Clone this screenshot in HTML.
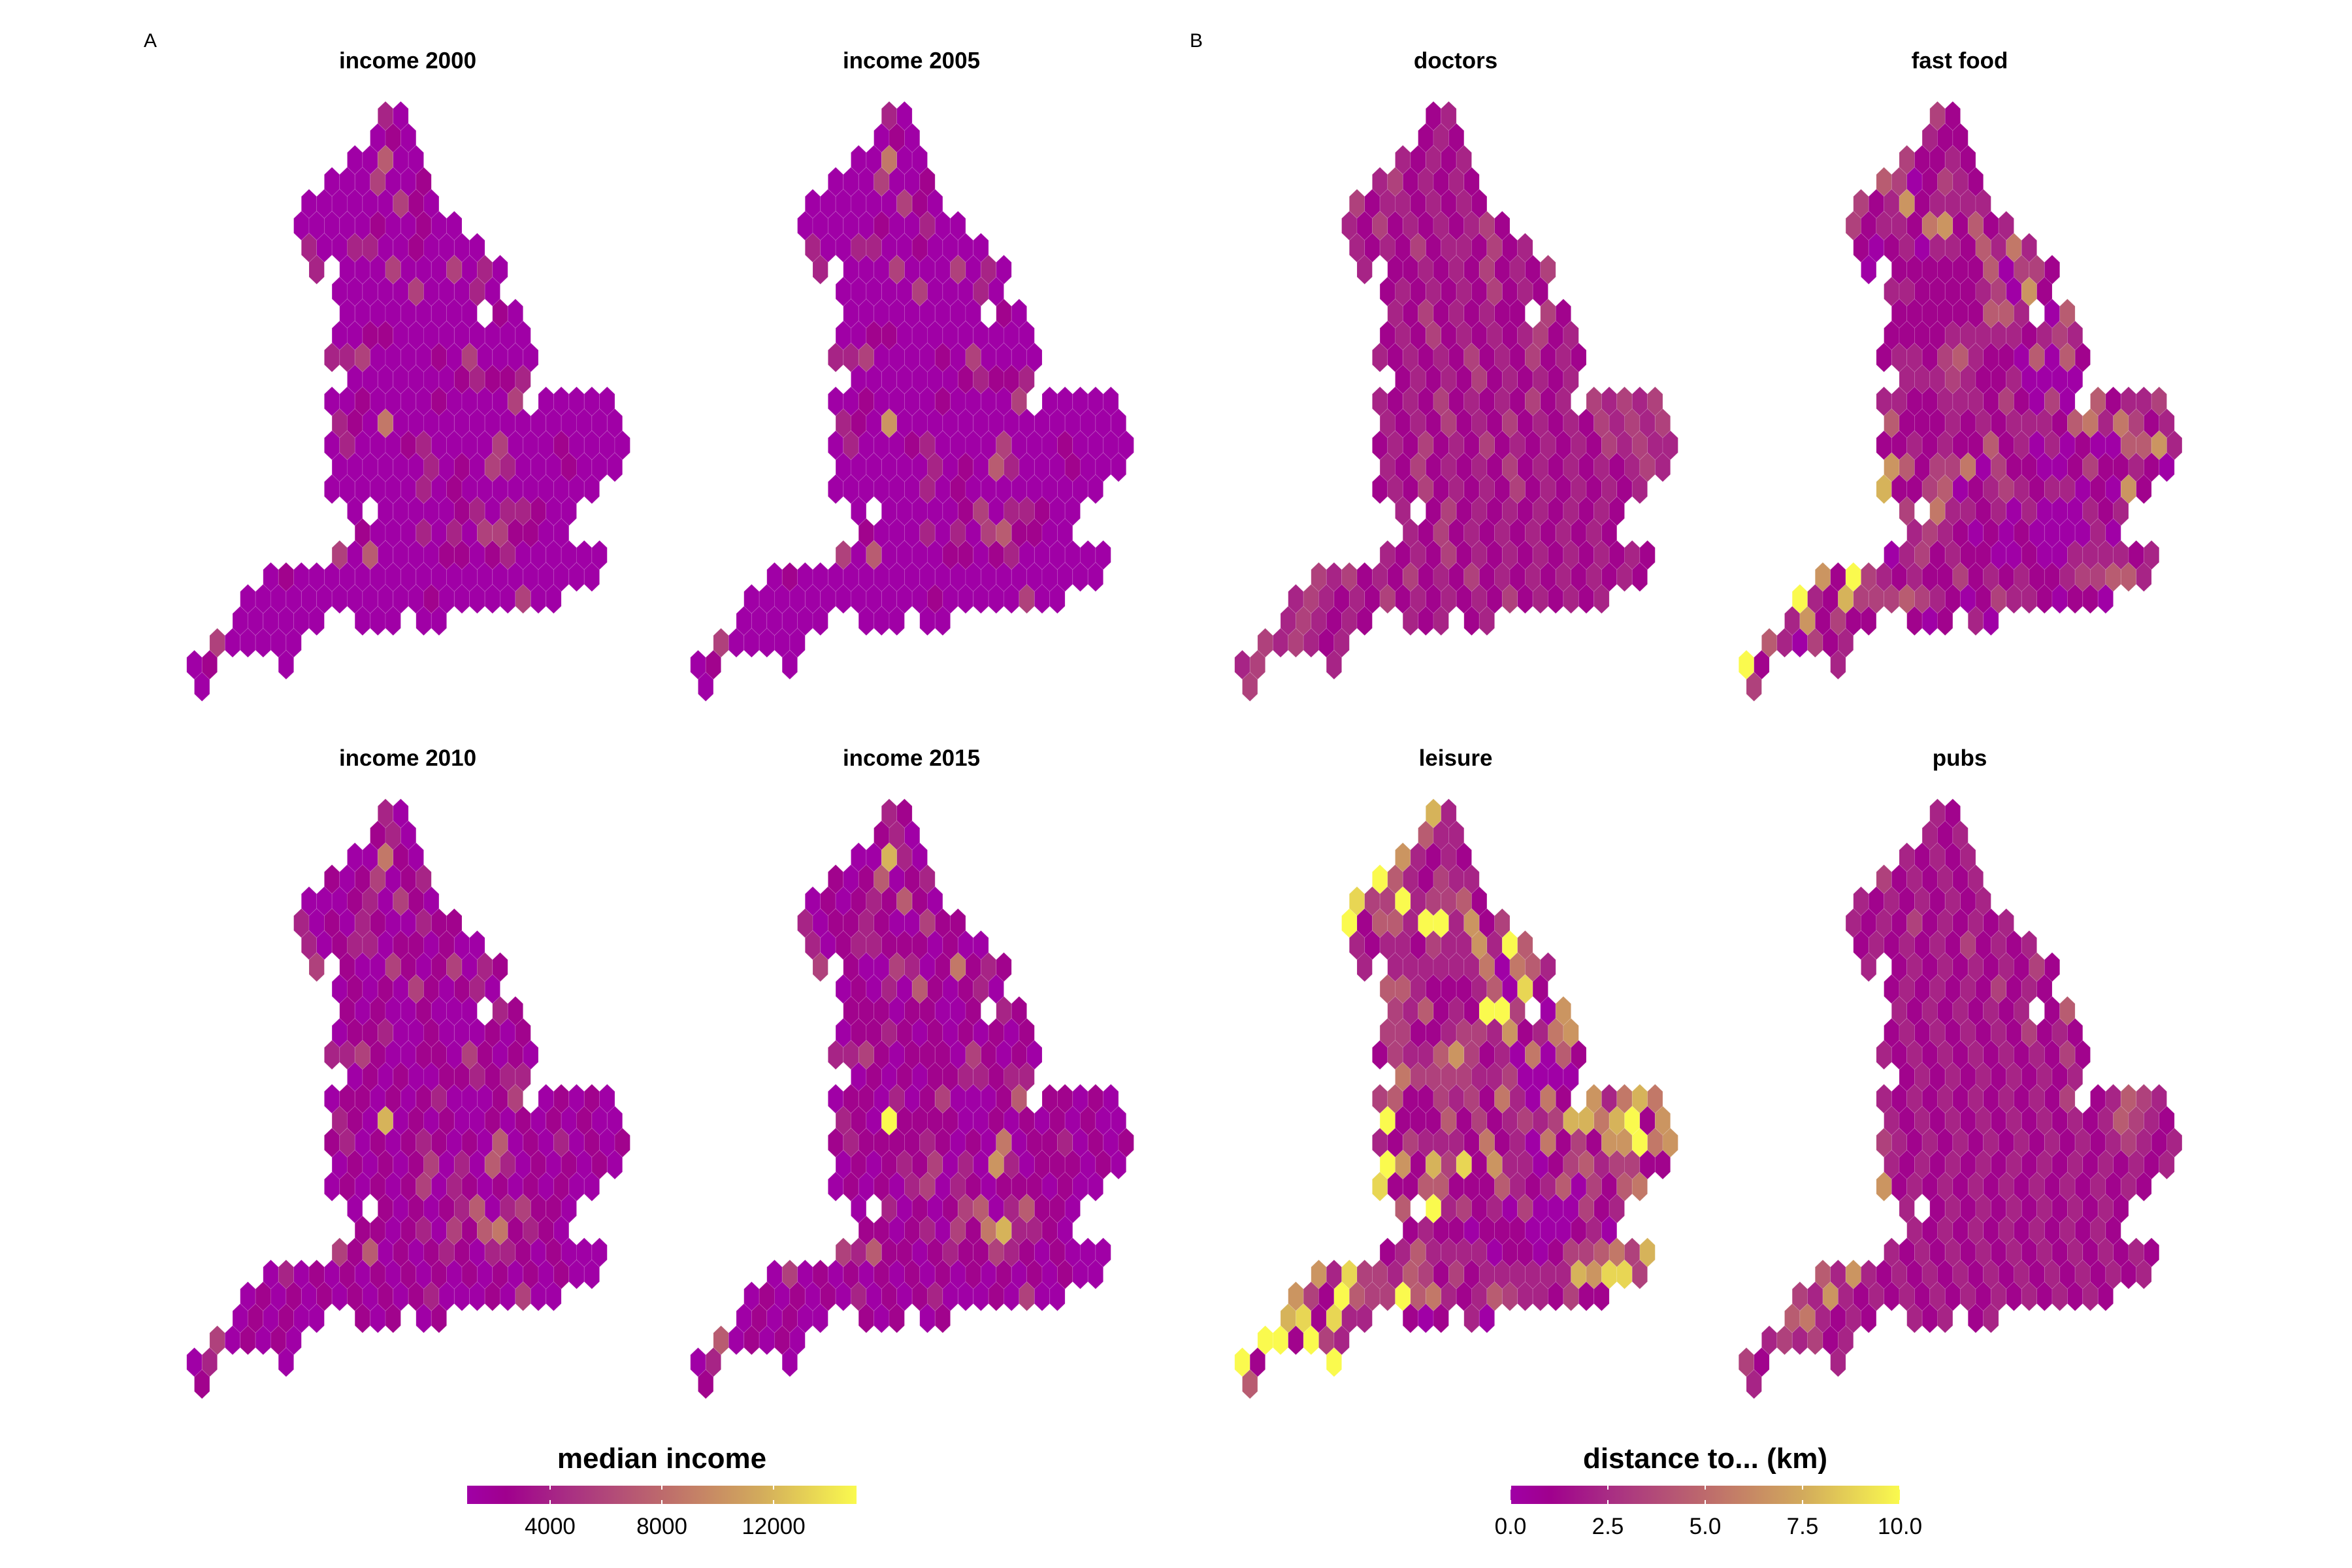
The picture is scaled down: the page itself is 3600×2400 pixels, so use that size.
<!DOCTYPE html>
<html>
<head>
<meta charset="utf-8">
<style>
html,body{margin:0;padding:0;background:#fff;}
svg{display:block;font-family:"Liberation Sans",Arial,sans-serif;}
</style>
</head>
<body>
<svg id="chart" width="3600" height="2400" viewBox="0 0 3600 2400" xmlns="http://www.w3.org/2000/svg">
<defs>
<linearGradient id="grad" x1="0" x2="1" y1="0" y2="0">
<stop offset="0" stop-color="#A000A6"/>
<stop offset="0.1" stop-color="#A0008E"/>
<stop offset="0.25" stop-color="#A82C84"/>
<stop offset="0.5" stop-color="#BD6A6C"/>
<stop offset="0.75" stop-color="#D2AA5C"/>
<stop offset="1" stop-color="#FAFA4E"/>
</linearGradient>
</defs>
<text x="230" y="72" font-size="30" text-anchor="middle">A</text>
<text x="1831" y="72" font-size="30" text-anchor="middle">B</text>
<g id="maps"></g>
<g id="legends"></g>
</svg>
<script>
// grid shape: per row, list of [startK, endK] ranges
const shapeRanges = [
 [[0,1]],[[0,2]],[[-2,2]],[[-3,3]],[[-5,3]],[[-5,5]],[[-5,6]],[[-4,-4],[-2,8]],[[-3,7]],
 [[-2,6],[8,9]],[[-3,9]],[[-3,10]],[[-2,9]],[[-3,9],[11,15]],[[-3,15]],[[-3,16]],[[-3,15]],
 [[-3,14]],[[-2,-2],[0,12]],[[-1,12]],[[-3,14]],[[-7,14]],[[-9,11]],[[-9,-4],[-1,1],[3,4]],
 [[-11,-6]],[[-12,-11],[-6,-6]],[[-12,-12]]
];
// values per cell (digit 0-9 on colour scale), row by row
const income2000 = ["20","010","00400","0003001","000000310","00000100100","200220010000","200030003020","00000300020","00000000010","0011000000000","22300001030000","000000012112","001000010000300000","2105000000000000000","02000120000300010000","0000002010320001000","000000201000000000","00000012022100","10002020331100","304000011012000000","0100000000000000000000","000000000000100000300","00000000000","300000","010","0"];
const income2005 = ["20","010","00500","0003001","000000310","00000100200","200220010000","200030003020","00000300020","00000000010","0011000000000","22300001030000","000000012112","001000010000300000","2106000000000000000","02000120000300010000","0000002010420001000","000000201000000000","00000013022100","10002020341100","304000011012000000","0100000000000000000000","000000000000100000300","00000000000","300000","010","0"];
const income2010 = ["20","120","00510","1013012","000120310","20102100211","201220110100","310031013021","01010310120","10100100021","0112001000101","22310011031010","010100112122","011010120001301010","2107010100101010100","12010121010401020101","0101013020420101010","010101302101010100","01010124023110","11012031451210","314010121022101000","0201010101010101010100","010101010101200010300","01010010101","301010","020","1"];
const income2015 = ["21","120","00720","1014012","010121410","20112100311","201221110100","310032015121","01020410120","11101100121","0112101010101","22310111031010","010101122122","011020130001411010","2109111100101010100","12111121010501120101","0101213020620111010","010102302101110100","02010134024110","11012031572210","324110121132101000","0301010101010101010100","010101020101200010300","01010010101","401010","020","1"];
const doctors = ["12","121","21212","2312121","312212121","21312121231","212131221312","211212131213","12121213121","21312121131","1213121212312","21212131213121","121213121212","212131212131232323","2121312131212132323","12131213121212132322","2131212131212121232","121312121312121212","21312121212121","21312121212121","212131212121212121","3231213121312121212121","232121312121213121212","23212121212","323212","232","3"];
const fastFood = ["31","211","31121","4301321","312612222","31221561412","101202214252","011111140331","22111123061","11111144204","1111222221232","12213421104041","222321120000","221122213103041223","4111212122214525312","11212114120201004462","6413350311001311210","711340123212201061","35221202000212","23210101000020","023121100100222212","6193212113121211233442","921733343210132210110","26131110120","420312","912","3"];
const leisure = ["72","422","62121","9421322","833923341","91442992613","212213226294","222222250542","44211124081","32412199306","3311233261256","13224631205041","533332230000","341132315205162575","9111413123237757916","21322215120513166956","9617381622013423311","811441114212403145","49231203000312","12110111000120","124222201101334537","6283324313122222276883","631943394521243221311","78182210120","991932","919","4"];
const pubs = ["21","212","21212","3121212","212121212","21213121212","121212131212","212121212131","12121213121","21212121214","1212121213121","21212121212131","121212121212","212121212121312432","2121212121212124321","32121212121212123212","2121212121212121212","612121212121212121","21212121212121","21212121212121","212121212121212121","4262121212121212121212","326212121212121212121","45212121212","232312","312","2"];
const panelTitles = ["income 2000","income 2005","income 2010","income 2015","doctors","fast food","leisure","pubs"];
const incomeTicks = [4000, 8000, 12000];
const incomeTickLabels = ["4000","8000","12000"];
const incomeDomain = [1030, 14970];
const distTicks = [0, 2.5, 5, 7.5, 10];
const distTickLabels = ["0.0","2.5","5.0","7.5","10.0"];
const distDomain = [0, 10];

const panelSeries = [income2000, income2005, income2010, income2015, doctors, fastFood, leisure, pubs];
const panelOrigins = [[590,177.5],[1361,177.5],[590,1245],[1361,1245],[2194,177.5],[2965.5,177.5],[2194,1245],[2965.5,1245]];
const HW = 23.4, HH = 44.8, RS = 33.6;
const NS = "http://www.w3.org/2000/svg";

const stops = [[0,[160,0,166]],[0.1,[160,0,142]],[0.25,[168,44,132]],[0.5,[189,106,108]],[0.75,[210,170,92]],[1,[250,250,78]]];
function colorAt(t){
  t = Math.max(0, Math.min(1, t));
  for (let i = 1; i < stops.length; i++){
    if (t <= stops[i][0]){
      const a = stops[i-1], b = stops[i];
      const f = (t - a[0]) / (b[0] - a[0]);
      const c = a[1].map((v,j)=>Math.round(v + (b[1][j]-v)*f));
      return "rgb(" + c.join(",") + ")";
    }
  }
  return "rgb(250,250,78)";
}
function hexPoints(cx, cy){
  return [[cx,cy-HH/2],[cx+HW/2,cy-HH/4],[cx+HW/2,cy+HH/4],[cx,cy+HH/2],[cx-HW/2,cy+HH/4],[cx-HW/2,cy-HH/4]]
    .map(p=>p[0].toFixed(1)+","+p[1].toFixed(1)).join(" ");
}
const maps = document.getElementById("maps");
panelSeries.forEach((series, p) => {
  const [ox, oy] = panelOrigins[p];
  const g = document.createElementNS(NS, "g");
  
  
  const title = document.createElementNS(NS, "text");
  
  
  title.setAttribute("x", ox + 34);
  title.setAttribute("y", oy - 73);
  title.setAttribute("font-size", "35");
  title.setAttribute("font-weight", "bold");
  title.setAttribute("text-anchor", "middle");
  title.textContent = panelTitles[p];
  g.appendChild(title);
  shapeRanges.forEach((ranges, r) => {
    const vals = series[r];
    let idx = 0;
    const cy = oy + r * RS;
    const off = (r % 2 === 1) ? -HW/2 : 0;
    ranges.forEach(([a, b]) => {
      for (let k = a; k <= b; k++){
        const d = parseInt(vals.charAt(idx) || "1", 10);
        idx++;
        const cx = ox + off + k * HW;
        const poly = document.createElementNS(NS, "polygon");
        
        
        poly.setAttribute("points", hexPoints(cx, cy));
        poly.setAttribute("fill", colorAt(d / 9));
        poly.setAttribute("stroke", "rgba(255,255,255,0.18)");
        poly.setAttribute("stroke-width", "0.8");
        g.appendChild(poly);
      }
    });
  });
  maps.appendChild(g);
});

const legends = document.getElementById("legends");
function makeLegend(name, titleText, x0, x1, domain, ticks, labels){
  const g = document.createElementNS(NS, "g");
  
  
  const t = document.createElementNS(NS, "text");
  
  
  t.setAttribute("x", (x0 + x1) / 2);
  t.setAttribute("y", 2247);
  t.setAttribute("font-size", "44");
  t.setAttribute("font-weight", "bold");
  t.setAttribute("text-anchor", "middle");
  t.textContent = titleText;
  g.appendChild(t);
  const bar = document.createElementNS(NS, "rect");
  
  
  bar.setAttribute("x", x0);
  bar.setAttribute("y", 2274);
  bar.setAttribute("width", x1 - x0);
  bar.setAttribute("height", 28);
  bar.setAttribute("fill", "url(#grad)");
  g.appendChild(bar);
  const sx = v => x0 + (v - domain[0]) / (domain[1] - domain[0]) * (x1 - x0);
  ticks.forEach((v, i) => {
    const x = sx(v);
    [[2274, 2280], [2296, 2302]].forEach(([ya, yb]) => {
      const l = document.createElementNS(NS, "line");
      
      
      l.setAttribute("x1", x); l.setAttribute("x2", x);
      l.setAttribute("y1", ya); l.setAttribute("y2", yb);
      l.setAttribute("stroke", "#ffffff");
      l.setAttribute("stroke-width", "2");
      g.appendChild(l);
    });
    const lab = document.createElementNS(NS, "text");
    
    
    lab.setAttribute("x", x);
    lab.setAttribute("y", 2348);
    lab.setAttribute("font-size", "35");
    lab.setAttribute("text-anchor", "middle");
    lab.textContent = labels[i];
    g.appendChild(lab);
  });
  legends.appendChild(g);
}
makeLegend("legend-median-income", "median income", 715, 1311, incomeDomain, incomeTicks, incomeTickLabels);
makeLegend("legend-distance", "distance to... (km)", 2312, 2908, distDomain, distTicks, distTickLabels);
</script>
</body>
</html>
